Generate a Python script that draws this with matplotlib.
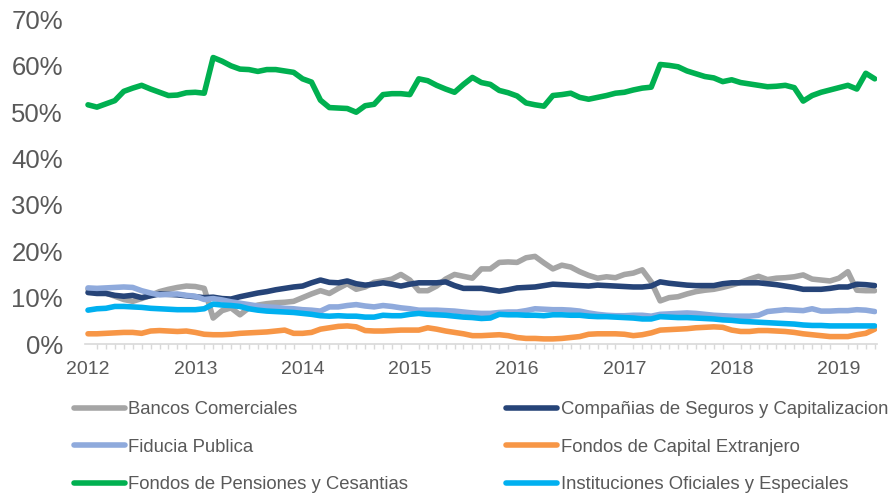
import numpy as np
import matplotlib
matplotlib.use("Agg")
import matplotlib.pyplot as plt
from matplotlib.ticker import FixedLocator, PercentFormatter

plt.rcParams['font.family'] = ['Liberation Sans', 'DejaVu Sans']

# monthly data, Jan 2012 - May 2019 (share of holdings, %)
start_year = 2012
years = [2012, 2013, 2014, 2015, 2016, 2017, 2018, 2019]

bancos = [11.8, 11.5, 11.0, 10.3, 9.6, 9.2, 9.8, 10.5, 11.3, 11.8, 12.2, 12.5, 12.4, 12.0, 5.6,
          7.2, 7.8, 6.3, 7.8, 8.4, 8.7, 8.9, 9.0, 9.2, 10.0, 10.8, 11.5, 10.9, 12.0, 13.0,
          11.8, 12.3, 13.3, 13.6, 14.0, 15.0, 13.8, 11.5, 11.5, 12.5, 14.0, 15.0, 14.6, 14.2, 16.2,
          16.2, 17.6, 17.7, 17.6, 18.6, 18.9, 17.5, 16.2, 17.0, 16.6, 15.6, 14.8, 14.2, 14.5, 14.3,
          15.0, 15.3, 16.0, 13.4, 9.3, 10.0, 10.2, 10.8, 11.3, 11.6, 11.8, 12.2, 12.7, 13.3, 14.0,
          14.6, 13.9, 14.2, 14.3, 14.5, 14.9, 14.0, 13.8, 13.6, 14.2, 15.6, 11.6, 11.5, 11.5]

companias = [11.1, 10.9, 10.9, 10.5, 10.3, 10.5, 10.0, 10.4, 10.8, 10.7, 10.6, 10.4, 10.2, 10.0, 10.1,
             9.8, 9.7, 10.2, 10.6, 11.0, 11.3, 11.7, 12.0, 12.3, 12.5, 13.2, 13.8, 13.3, 13.2, 13.6,
             13.0, 12.7, 12.9, 13.2, 12.9, 12.5, 12.9, 13.2, 13.2, 13.2, 13.4, 12.6, 12.0, 12.0, 12.0,
             11.7, 11.4, 11.7, 12.1, 12.2, 12.3, 12.6, 12.9, 12.8, 12.7, 12.6, 12.5, 12.7, 12.6, 12.5,
             12.4, 12.3, 12.3, 12.5, 13.4, 13.1, 12.9, 12.7, 12.6, 12.6, 12.6, 13.0, 13.2, 13.2, 13.2,
             13.2, 13.0, 12.8, 12.5, 12.2, 11.8, 11.8, 11.8, 12.0, 12.3, 12.3, 12.9, 12.8, 12.6]

fiducia = [12.1, 12.0, 12.1, 12.2, 12.3, 12.2, 11.5, 11.0, 10.6, 10.7, 10.8, 10.5, 10.3, 9.6, 9.8,
           9.5, 9.1, 8.8, 8.5, 8.2, 8.0, 7.9, 7.7, 7.6, 7.4, 7.3, 7.1, 8.0, 8.0, 8.3,
           8.5, 8.2, 8.0, 8.3, 8.1, 7.8, 7.6, 7.3, 7.3, 7.3, 7.2, 7.1, 6.9, 6.7, 6.6,
           6.6, 6.8, 6.9, 6.9, 7.2, 7.6, 7.5, 7.4, 7.4, 7.3, 7.1, 6.7, 6.4, 6.2, 6.1,
           6.1, 6.2, 6.2, 6.0, 6.4, 6.5, 6.6, 6.7, 6.6, 6.4, 6.2, 6.1, 6.0, 6.0, 6.0,
           6.2, 7.0, 7.2, 7.4, 7.3, 7.2, 7.6, 7.1, 7.1, 7.2, 7.2, 7.4, 7.3, 7.0]

capital_ext = [2.2, 2.2, 2.3, 2.4, 2.5, 2.5, 2.3, 2.8, 2.9, 2.8, 2.7, 2.8, 2.5, 2.1, 2.0,
               2.0, 2.1, 2.3, 2.4, 2.5, 2.6, 2.8, 3.0, 2.3, 2.3, 2.5, 3.2, 3.5, 3.8, 3.9,
               3.7, 2.9, 2.8, 2.8, 2.9, 3.0, 3.0, 3.0, 3.5, 3.2, 2.8, 2.5, 2.2, 1.8, 1.8,
               1.9, 2.0, 1.8, 1.4, 1.2, 1.2, 1.1, 1.1, 1.2, 1.4, 1.6, 2.1, 2.2, 2.2, 2.2,
               2.1, 1.8, 2.0, 2.4, 3.0, 3.1, 3.2, 3.3, 3.5, 3.6, 3.7, 3.6, 3.0, 2.7, 2.7,
               2.9, 2.9, 2.8, 2.7, 2.5, 2.2, 2.0, 1.8, 1.6, 1.6, 1.6, 2.0, 2.3, 3.2]

pensiones = [51.6, 51.1, 51.8, 52.5, 54.5, 55.2, 55.8, 55.0, 54.3, 53.6, 53.7, 54.2, 54.3, 54.1, 61.8,
             61.0, 60.0, 59.3, 59.2, 58.8, 59.2, 59.2, 58.9, 58.6, 57.2, 56.5, 52.6, 51.0, 50.9, 50.8,
             50.0, 51.4, 51.7, 53.8, 54.0, 54.0, 53.8, 57.2, 56.8, 55.8, 55.0, 54.3, 56.0, 57.5, 56.4,
             56.0, 54.7, 54.2, 53.5, 52.0, 51.6, 51.3, 53.6, 53.8, 54.1, 53.2, 52.8, 53.2, 53.6, 54.1,
             54.3, 54.8, 55.2, 55.4, 60.3, 60.1, 59.8, 58.9, 58.3, 57.7, 57.4, 56.6, 57.0, 56.4, 56.1,
             55.8, 55.5, 55.6, 55.8, 55.3, 52.4, 53.6, 54.3, 54.8, 55.3, 55.8, 55.0, 58.4, 57.2]

instituciones = [7.3, 7.6, 7.7, 8.1, 8.1, 8.0, 7.9, 7.7, 7.6, 7.5, 7.4, 7.4, 7.4, 7.6, 8.6,
                 8.4, 8.3, 8.1, 7.6, 7.3, 7.1, 7.0, 6.9, 6.8, 6.6, 6.4, 6.1, 6.0, 6.1, 6.0,
                 6.0, 5.8, 5.8, 6.2, 6.1, 6.1, 6.4, 6.6, 6.4, 6.3, 6.2, 6.0, 5.8, 5.7, 5.5,
                 5.6, 6.4, 6.3, 6.3, 6.2, 6.2, 6.1, 6.3, 6.3, 6.2, 6.2, 6.0, 5.9, 5.9, 5.8,
                 5.7, 5.6, 5.4, 5.4, 5.9, 5.8, 5.7, 5.7, 5.6, 5.5, 5.4, 5.2, 5.1, 4.9, 4.8,
                 4.7, 4.6, 4.5, 4.4, 4.3, 4.1, 4.0, 4.0, 3.9, 3.9, 3.9, 3.9, 3.9, 3.9]

labels = ["Bancos Comerciales", "Compañias de Seguros y Capitalizacion", "Fiducia Publica",
          "Fondos de Capital Extranjero", "Fondos de Pensiones y Cesantias",
          "Instituciones Oficiales y Especiales"]
colors = ["#A5A5A5", "#264478", "#8FAADC", "#F79646", "#00B050", "#00B0F0"]
series = [bancos, companias, fiducia, capital_ext, pensiones, instituciones]

t = start_year + np.arange(len(pensiones)) / 12.0

fig = plt.figure(figsize=(8.94, 4.93), dpi=100)
ax = fig.add_axes([85 / 894, 1 - 344 / 493, 792 / 894, 324.5 / 493])

lines = []
for vals, lab, col in zip(series, labels, colors):
    ln, = ax.plot(t, vals, color=col, lw=4, label=lab, solid_capstyle='round', solid_joinstyle='round')
    lines.append(ln)

ax.set_ylim(0, 70)
ax.set_xlim(start_year + (85 - 88) / 8.94 / 12, start_year + (877 - 88) / 8.94 / 12)
ax.set_yticks(np.arange(0, 71, 10))
ax.yaxis.set_major_formatter(PercentFormatter(decimals=0))
ax.set_xticks(years)
ax.set_xticklabels([str(y) for y in years])
ax.xaxis.set_minor_locator(FixedLocator(t))

for s in ['top', 'right', 'left']:
    ax.spines[s].set_visible(False)
ax.spines['bottom'].set_color('#D9D9D9')
ax.spines['bottom'].set_linewidth(1.2)

ax.tick_params(axis='y', length=0, pad=16, labelsize=18.5, labelcolor='#595959')
ax.tick_params(axis='x', which='major', length=0, pad=12, labelsize=14, labelcolor='#595959')
ax.tick_params(axis='x', which='minor', length=3.5, width=1, color='#D9D9D9')

order = [0, 2, 4, 1, 3, 5]
fig.legend([lines[k] for k in order], [labels[k] for k in order],
           loc='upper left', bbox_to_anchor=(74 / 894, 1 - 401 / 493), ncol=2,
           frameon=False, fontsize=13.3, labelcolor='#595959',
           handlelength=2.75, handletextpad=0.2, columnspacing=5.3,
           labelspacing=1.12, borderpad=0, borderaxespad=0)

fig.savefig("out.png", dpi=100)
